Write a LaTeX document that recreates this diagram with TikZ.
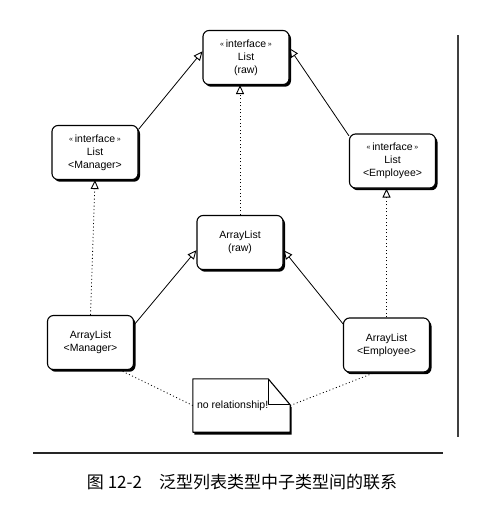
\documentclass[tikz,border=0pt]{standalone}
\usepackage{fontspec}
\setmainfont{Liberation Sans}
\newfontfamily\cjk{Noto Sans CJK SC}
\usetikzlibrary{arrows.meta,shadows}
\newcommand{\gl}{{\fontsize{7}{7}\selectfont\raisebox{0.25ex}{«}}\,}
\newcommand{\gr}{\,{\fontsize{7}{7}\selectfont\raisebox{0.25ex}{»}}}
\begin{document}
\begin{tikzpicture}[x=1pt,y=-1pt,
  cls/.style={draw=black,line width=1.1pt,rounded corners=6pt,fill=white,
    minimum width=86pt,minimum height=54pt,align=center,inner sep=2pt,
    font=\fontsize{10.5}{13}\selectfont,
    drop shadow={shadow xshift=2pt,shadow yshift=-2.2pt,fill=black,opacity=1}},
  gen/.style={line width=0.8pt,-{Triangle[open,length=9pt,width=8pt,line width=0.9pt]}},
  real/.style={line width=0.8pt,dash pattern=on 1pt off 2.5pt,-{Triangle[open,length=9pt,width=8pt,line width=0.9pt,sep=0pt]}},
  link/.style={line width=0.8pt,dash pattern=on 1pt off 2.5pt}]
\useasboundingbox (0,0) rectangle (496,509);
\fill[white] (0,0) rectangle (496,509);

\node[cls] (top) at (246,57.5) {\gl interface\gr\\List\\(raw)};
\node[cls] (LM) at (95,152.5) {\gl interface\gr\\List\\<Manager>};
\node[cls] (LE) at (392.5,161) {\gl interface\gr\\List\\<Employee>};
\node[cls] (AR) at (240,242.5) {ArrayList\\(raw)};
\node[cls] (AM) at (90.5,342.5) {ArrayList\\<Manager>};
\node[cls] (AE) at (386.5,345) {ArrayList\\<Employee>};

% note
\node[minimum width=97pt,minimum height=53pt,inner sep=3pt] (note) at (241.5,405.5) {};
\fill[black] ([xshift=1.5pt,yshift=-2.5pt]note.north west) -- ([xshift=-20.5pt,yshift=-2.5pt]note.north east)
  -- ([xshift=1.5pt,yshift=-28.5pt]note.north east) -- ([xshift=1.5pt,yshift=-2.5pt]note.south east)
  -- ([xshift=1.5pt,yshift=-2.5pt]note.south west) -- cycle;
\draw[line width=1.1pt,fill=white,line join=round] (note.north west) -- ([xshift=-22pt]note.north east)
  -- ([yshift=-26pt]note.north east) -- (note.south east) -- (note.south west) -- cycle;
\draw[line width=1pt,line join=round] ([xshift=-22pt]note.north east) -- ([xshift=-22pt,yshift=-26pt]note.north east)
  -- ([yshift=-26pt]note.north east);
\node[anchor=west,inner sep=0pt,font=\fontsize{10.5}{13}\selectfont] (notetext) at ([xshift=4pt]note.west) {no relationship!};

% connectors
\draw[gen] (LM.28) -- (top.172);
\draw[gen] (LE.150) -- (top.12);
\draw[real] (AR.north) -- (AR.north |- top.south);
\draw[real] (AM.north) -- (LM.south);
\draw[real] (AE.north) -- (AE.north |- LE.south);
\draw[gen] (AM.22) -- (AR.190);
\draw[gen] (AE.154) -- (AR.350);
\draw[link] (note.west) -- (AM.-43);
\draw[link] (note.east) -- (AE.247);

% frame remnants
\coordinate (r1) at (458,35);
\coordinate (r2) at (458,437);
\draw[line width=1.4pt,black!75] (r1) -- (r2);
\coordinate (b1) at (33,453);
\coordinate (b2) at (443,453);
\draw[line width=2.4pt,black!85] (b1) -- (b2);

\node[font=\cjk\fontsize{17}{18}\selectfont,inner sep=0pt] (cap) at (242,482) {图 12-2\quad 泛型列表类型中子类型间的联系};
\end{tikzpicture}
\end{document}
